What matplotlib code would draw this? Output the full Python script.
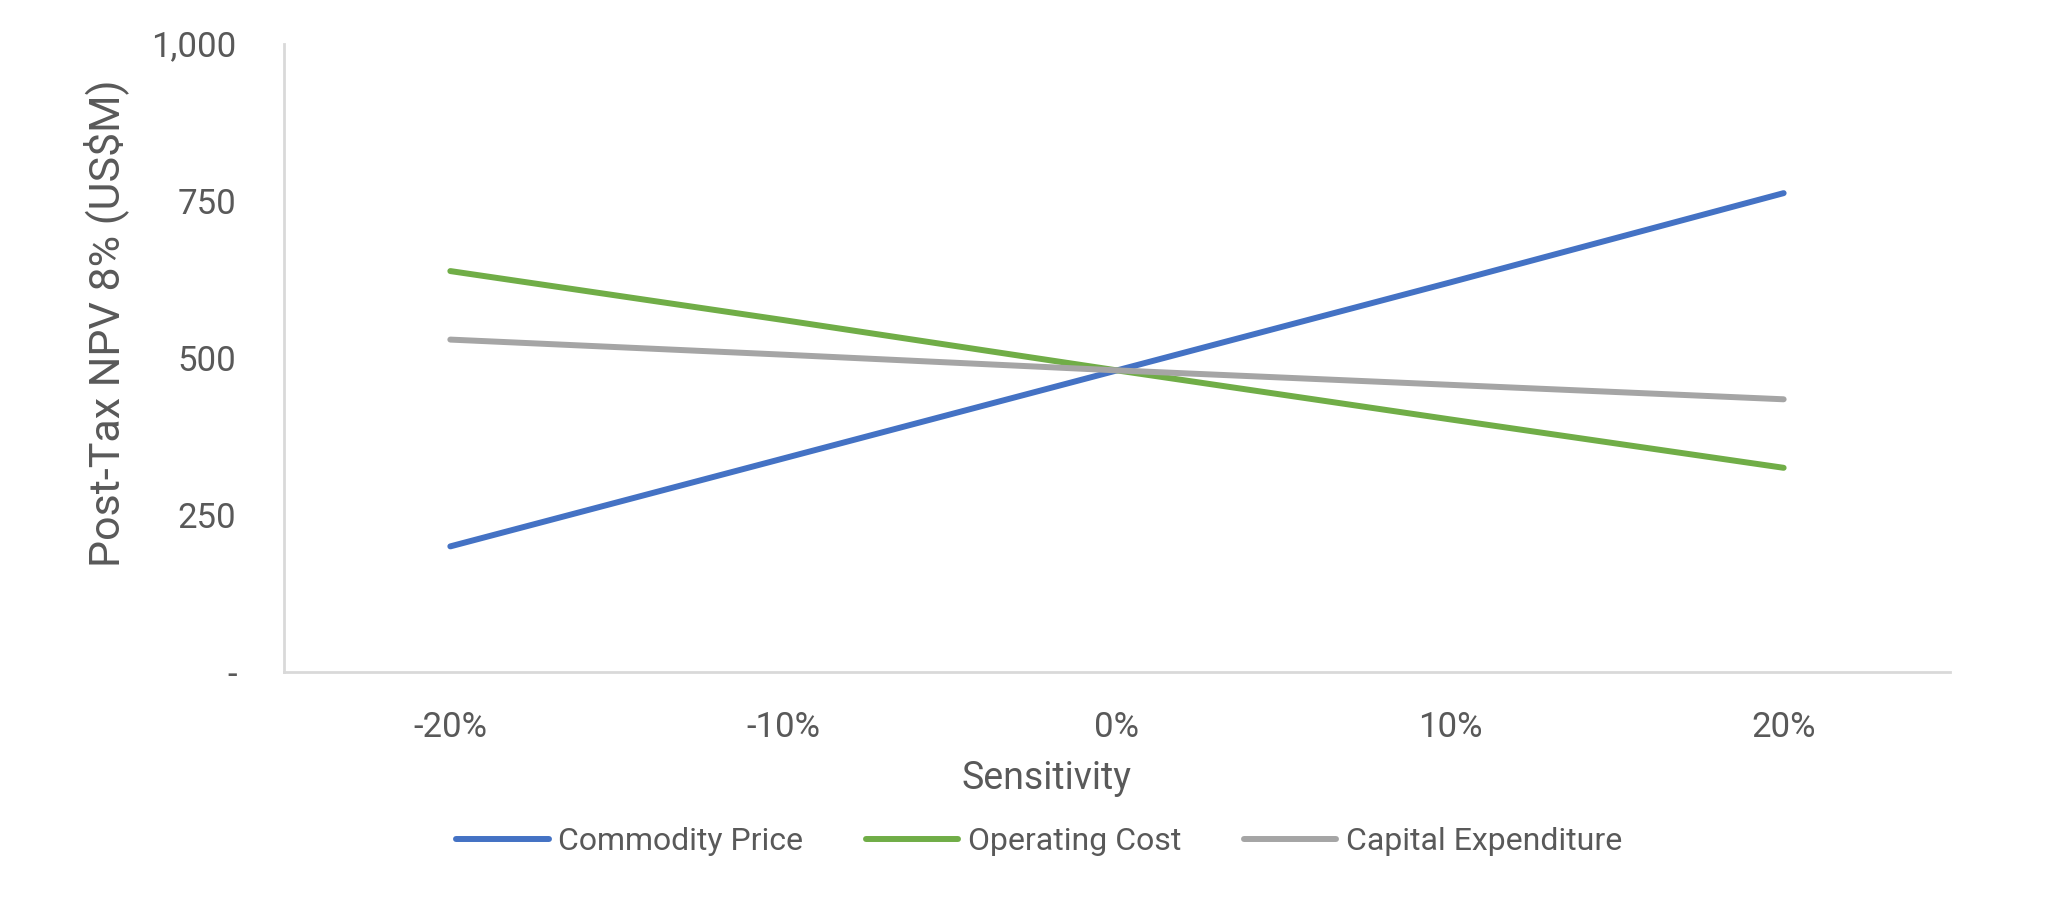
import matplotlib.pyplot as plt
from matplotlib.ticker import FuncFormatter

sensitivity = ['-20%', '-10%', '0%', '10%', '20%']
commodity_price = [200, 340, 480, 620, 762]
operating_cost = [638, 560, 480, 402, 325]
capital_expenditure = [529, 505, 480, 457, 434]

plt.rcParams['font.family'] = ['Roboto', 'DejaVu Sans']
text_color = '#595959'

fig = plt.figure(figsize=(20.66, 9.07), dpi=100)
ax = fig.add_axes([0.1373, 0.259, 0.8067, 0.693])

x = range(len(sensitivity))
ax.plot(x, commodity_price, color='#4472C4', lw=4.3, solid_capstyle='round', label='Commodity Price')
ax.plot(x, operating_cost, color='#70AD47', lw=4.3, solid_capstyle='round', label='Operating Cost')
ax.plot(x, capital_expenditure, color='#A5A5A5', lw=4.3, solid_capstyle='round', label='Capital Expenditure')

ax.set_xlim(-0.5, 4.5)
ax.set_ylim(0, 1000)
ax.set_xticks(list(x))
ax.set_xticklabels(sensitivity)
ax.set_yticks([0, 250, 500, 750, 1000])
ax.yaxis.set_major_formatter(FuncFormatter(lambda v, p: '-' if v == 0 else f'{v:,.0f}'))

for side in ['top', 'right']:
    ax.spines[side].set_visible(False)
for side in ['left', 'bottom']:
    ax.spines[side].set_color('#D9D9D9')
    ax.spines[side].set_linewidth(2)

ax.tick_params(length=0, labelsize=25, colors=text_color)
ax.tick_params(axis='x', pad=28)
ax.tick_params(axis='y', pad=34)

ax.set_xlabel('Sensitivity', fontsize=27, color=text_color)
ax.xaxis.set_label_coords(0.458, -0.14)
ax.set_ylabel('Post-Tax NPV 8% (US$M)', fontsize=31, color=text_color)
ax.yaxis.set_label_coords(-0.0926, 0.555)

fig.legend(loc='center', bbox_to_anchor=(0.503, 0.072), ncol=3, frameon=False,
           fontsize=23, labelcolor=text_color, handlelength=2.9, handletextpad=0.3,
           columnspacing=1.95)

fig.savefig('out.png', dpi=100)
